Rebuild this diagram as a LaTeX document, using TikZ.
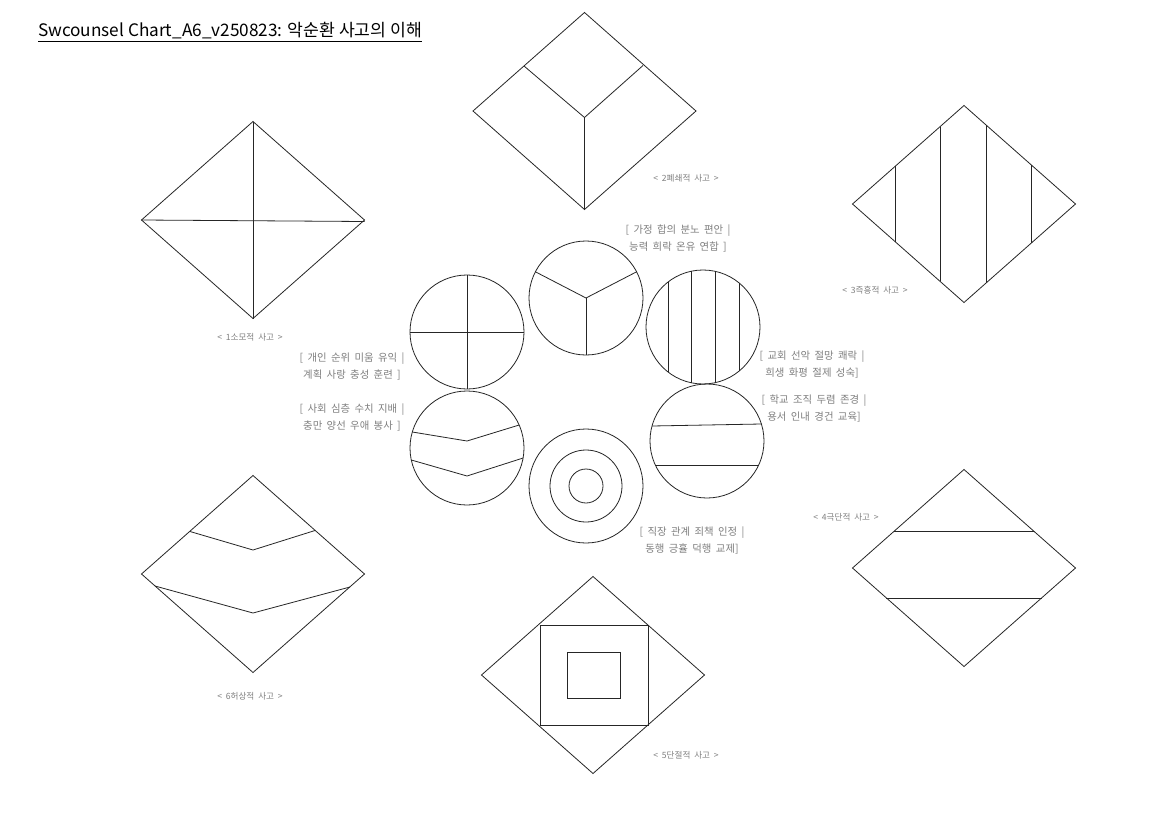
\documentclass[tikz,border=0pt]{standalone}
\usepackage{fontspec}
\setmainfont{Noto Sans CJK KR}
\newfontfamily\krfont{Noto Sans CJK KR}
\newcommand\dlabfont{\krfont\fontsize{8.6}{9}\selectfont\spaceskip=0.45em\relax}
\newcommand\clabfont{\krfont\fontsize{10.4}{17}\selectfont\spaceskip=0.42em\relax}
\begin{document}
\begin{tikzpicture}[x=1pt,y=-1pt,
  shp/.style={draw=black!85,line width=0.8pt},
  dlabel/.style={font=\dlabfont,text=black!50,inner sep=0pt},
  clabel/.style={font=\clabfont,text=black!50,inner sep=0pt,align=center},
  ttl/.style={font=\krfont\fontsize{17.2}{20}\selectfont,text=black,inner sep=0pt,anchor=west}]
\useasboundingbox[fill=white] (0,0) rectangle (1152,814);
% title
\node[ttl] (title) at (38,32) {\underline{Swcounsel Chart\_A6\_v250823: 악순환 사고의 이해}};

% diamond half width 111.5, half height 98.5
\def\dhw{111.5}\def\dhh{98.5}
% Diamond 1 (cross)
\begin{scope}[shift={(253,220)}]
  \draw[shp] (0,-\dhh) -- (\dhw,0) -- (0,\dhh) -- (-\dhw,0) -- cycle;
  \draw[shp] (0,-\dhh) -- (0,\dhh);
  \draw[shp] (-\dhw,0) -- (\dhw,1.5);
\end{scope}
\node[dlabel] (l1) at (250,337) {< 1소모적 사고 >};
% Diamond 2 (Y)
\begin{scope}[shift={(584.5,111)}]
  \draw[shp] (0,-\dhh) -- (\dhw,0) -- (0,\dhh) -- (-\dhw,0) -- cycle;
  \draw[shp] (-60.5,-45) -- (0,6.5) -- (58.5,-45.5);
  \draw[shp] (0,6.5) -- (0,\dhh);
\end{scope}
\node[dlabel] (l2) at (686,178) {< 2폐쇄적 사고 >};
% Diamond 3 (vertical lines)
\begin{scope}[shift={(964,204)}]
  \draw[shp] (0,-\dhh) -- (\dhw,0) -- (0,\dhh) -- (-\dhw,0) -- cycle;
  \foreach \dx in {-69,-24,22,67}{
    \pgfmathsetmacro{\yy}{\dhh*(1-abs(\dx)/\dhw)}
    \draw[shp] (\dx,-\yy) -- (\dx,\yy);
  }
\end{scope}
\node[dlabel] (l3) at (875,290) {< 3즉흥적 사고 >};
% Diamond 4 (horizontal lines)
\begin{scope}[shift={(964,568)}]
  \draw[shp] (0,-\dhh) -- (\dhw,0) -- (0,\dhh) -- (-\dhw,0) -- cycle;
  \foreach \dy in {-37,30}{
    \pgfmathsetmacro{\xx}{\dhw*(1-abs(\dy)/\dhh)}
    \draw[shp] (-\xx,\dy) -- (\xx,\dy);
  }
\end{scope}
\node[dlabel] (l4) at (846,517) {< 4극단적 사고 >};
% Diamond 5 (squares)
\begin{scope}[shift={(593,675)}]
  \draw[shp] (0,-\dhh) -- (\dhw,0) -- (0,\dhh) -- (-\dhw,0) -- cycle;
  \draw[shp] (-53,-50) rectangle (55,50);
  \draw[shp] (-26,-23) rectangle (27,23);
\end{scope}
\node[dlabel] (l5) at (686,755) {< 5단절적 사고 >};
% Diamond 6 (chevrons)
\begin{scope}[shift={(253,574)}]
  \draw[shp] (0,-\dhh) -- (\dhw,0) -- (0,\dhh) -- (-\dhw,0) -- cycle;
  \draw[shp] (-63,-42.5) -- (0,-24) -- (62,-43.5);
  \draw[shp] (-98,12) -- (0,39) -- (97,13);
\end{scope}
\node[dlabel] (l6) at (250,696) {< 6허상적 사고 >};

% circles, radius 57
\def\crad{57}
% C1 top (Y)
\begin{scope}[shift={(586,298)}]
  \draw[shp] (0,0) circle (\crad);
  \draw[shp] (-50.6,-26.2) -- (0,0) -- (50.6,-26.2);
  \draw[shp] (0,0) -- (0,\crad);
\end{scope}
% C2 upper-left (cross)
\begin{scope}[shift={(467,332)}]
  \draw[shp] (0,0) circle (\crad);
  \draw[shp] (0,-\crad) -- (0,\crad);
  \draw[shp] (-\crad,0) -- (\crad,0);
\end{scope}
% C3 upper-right (vertical)
\begin{scope}[shift={(703,327)}]
  \draw[shp] (0,0) circle (\crad);
  \foreach \dx in {-35,-12,12,36}{
    \pgfmathsetmacro{\yy}{sqrt(\crad*\crad-\dx*\dx)}
    \draw[shp] (\dx,-\yy) -- (\dx,\yy);
  }
\end{scope}
% C4 lower-left (chevrons)
\begin{scope}[shift={(467,448)}]
  \draw[shp] (0,0) circle (\crad);
  \draw[shp] (-54.7,-16) -- (0,-7) -- (52.2,-23);
  \draw[shp] (-55.7,12) -- (0,28) -- (56.1,10);
\end{scope}
% C5 lower-right (horizontal)
\begin{scope}[shift={(707,441)}]
  \draw[shp] (0,0) circle (\crad);
  \draw[shp] (-55,-15) -- (54.4,-17);
  \draw[shp] (-51.7,24) -- (51.7,24);
\end{scope}
% C6 bottom (concentric)
\begin{scope}[shift={(586,486)}]
  \draw[shp] (0,0) circle (\crad);
  \draw[shp] (0,0) circle (36);
  \draw[shp] (0,0) circle (17);
\end{scope}

% circle labels
\node[clabel] (t1) at (678,239) {[ 가정 합의 분노 편안 |\\능력 희락 온유 연합 ]};
\node[clabel] (t2) at (352,367) {[ 개인 순위 미움 유익 |\\계획 사랑 충성 훈련 ]};
\node[clabel] (t4) at (352,418) {[ 사회 심층 수치 지배 |\\충만 양선 우애 봉사 ]};
\node[clabel] (t3) at (812,365) {[ 교회 선악 절망 쾌락 |\\희생 화평 절제 성숙]};
\node[clabel] (t5) at (814,409) {[ 학교 조직 두렴 존경 |\\용서 인내 경건 교육]};
\node[clabel] (t6) at (692,541) {[ 직장 관계 죄책 인정 |\\동행 긍휼 덕행 교제]};
\end{tikzpicture}
\end{document}
